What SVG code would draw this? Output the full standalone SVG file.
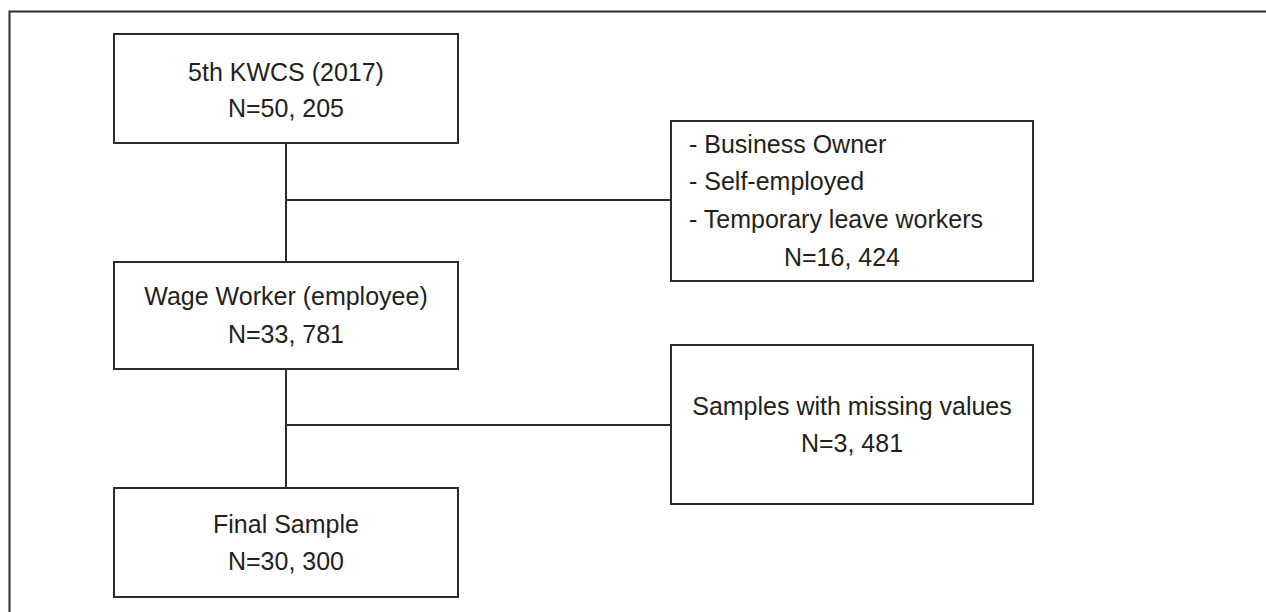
<svg xmlns="http://www.w3.org/2000/svg" width="1266" height="612" viewBox="0 0 1266 612">
<style>
.box{fill:#fff;stroke:#2b2b2b;stroke-width:2}
.ln{fill:none;stroke:#2b2b2b;stroke-width:2}
text{font-family:"Liberation Sans",Arial,sans-serif;font-size:25px;fill:#231f20}
.c{text-anchor:middle}
</style>
<rect width="1266" height="612" fill="#fff"/>
<g id="frame"><path class="ln" d="M9.5,612 V11.5 H1266"/></g>
<g id="connectors">
<path class="ln" d="M286,143 V262"/>
<path class="ln" d="M286,200 H671"/>
<path class="ln" d="M286,369 V488"/>
<path class="ln" d="M286,425 H671"/>
</g>
<g id="n1"><rect class="box" x="114" y="34" width="344" height="109"/>
<text class="c" x="286" y="81">5th KWCS (2017)</text>
<text class="c" x="286" y="117">N=50, 205</text></g>
<g id="n2"><rect class="box" x="671" y="121" width="362" height="160"/>
<text x="689" y="153">- Business Owner</text>
<text x="689" y="190">- Self-employed</text>
<text x="689" y="228">- Temporary leave workers</text>
<text class="c" x="842" y="266">N=16, 424</text></g>
<g id="n3"><rect class="box" x="114" y="262" width="344" height="107"/>
<text class="c" x="286" y="305">Wage Worker (employee)</text>
<text class="c" x="286" y="343">N=33, 781</text></g>
<g id="n4"><rect class="box" x="671" y="345" width="362" height="159"/>
<text class="c" x="852" y="415">Samples with missing values</text>
<text class="c" x="852" y="452">N=3, 481</text></g>
<g id="n5"><rect class="box" x="114" y="488" width="344" height="109"/>
<text class="c" x="286" y="533">Final Sample</text>
<text class="c" x="286" y="570">N=30, 300</text></g>
</svg>
